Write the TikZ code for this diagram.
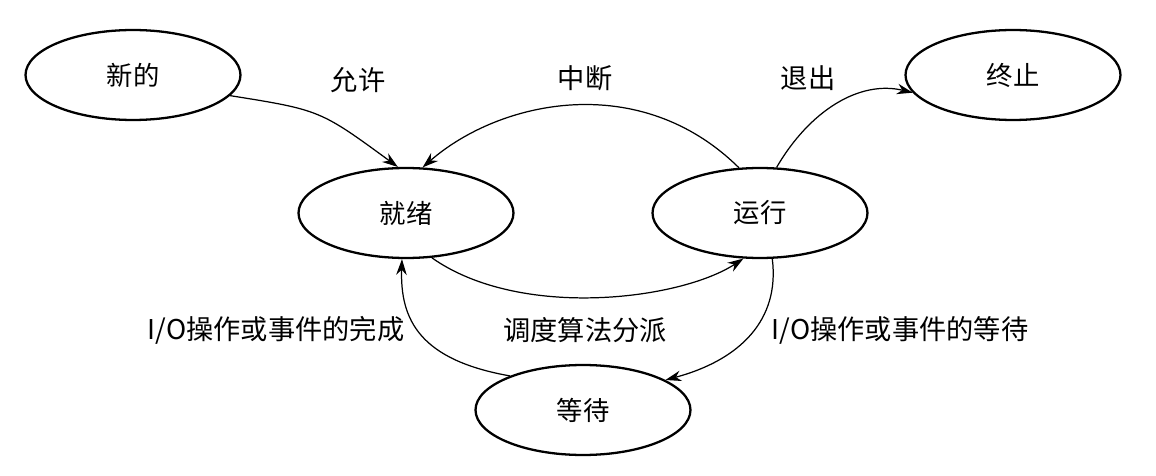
\documentclass[tikz,border=0pt]{standalone}
\usepackage{fontspec}
\setmainfont{Noto Sans CJK SC}
\usetikzlibrary{shapes.geometric,arrows.meta}
\begin{document}
\begin{tikzpicture}[x=0.02cm,y=-0.02cm,
  st/.style={ellipse,draw,line width=1.3pt,minimum width=4.3cm,minimum height=1.8cm,font=\fontsize{15}{17}\selectfont},
  ar/.style={line width=0.7pt,-{Stealth[length=9pt,width=6pt]}},
  lb/.style={font=\fontsize{15.5}{18}\selectfont}]
\useasboundingbox (0,0) rectangle (1156,476);
\node[st] (new) at (133,75) {新的};
\node[st] (term) at (1013,75) {终止};
\node[st] (ready) at (406,213) {就绪};
\node[st] (run) at (760,213) {运行};
\node[st] (wait) at (583,410) {等待};
\draw[ar] (new.-12) .. controls (320,110) .. (ready.100);
\draw[ar] (run.115) .. controls (640,70) and (500,100) .. (ready.70);
\draw[ar] (run.70) .. controls (810,110) and (860,80) .. (term.190);
\draw[ar] (ready.-60) .. controls (520,320) and (680,300) .. (run.-110);
\draw[ar] (run.-75) .. controls (780,320) and (740,360) .. (wait.20);
\draw[ar] (wait.155) .. controls (420,360) and (400,320) .. (ready.-95);
\node[lb] (l1) at (358,80) {允许};
\node[lb] (l2) at (585,78) {中断};
\node[lb] (l3) at (808,78) {退出};
\node[lb] (l4) at (585,330) {调度算法分派};
\node[lb] (l5) at (900,330) {I/O操作或事件的等待};
\node[lb] (l6) at (276,330) {I/O操作或事件的完成};
\end{tikzpicture}
\end{document}
